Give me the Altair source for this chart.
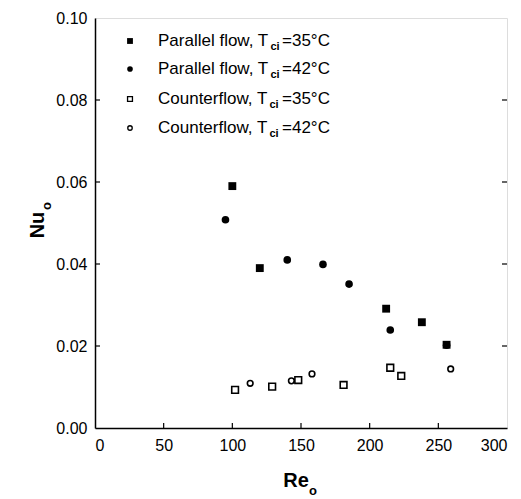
import altair as alt
import pandas as pd

# ---- data ----
par35_re = [100, 120, 212, 238, 256]
par35_nu = [0.0590, 0.0390, 0.0291, 0.0258, 0.0203]
par42_re = [95, 140, 166, 185, 215, 256]
par42_nu = [0.0508, 0.0410, 0.0399, 0.0351, 0.0239, 0.0202]
cnt35_re = [102, 129, 148, 181, 215, 223]
cnt35_nu = [0.0093, 0.0101, 0.0117, 0.0105, 0.0147, 0.0127]
cnt42_re = [113, 143, 158, 259]
cnt42_nu = [0.0109, 0.0115, 0.0132, 0.0144]

legend_main = ["Parallel flow, T", "Parallel flow, T", "Counterflow, T", "Counterflow, T"]
legend_tail = ["=35°C", "=42°C", "=35°C", "=42°C"]
legend_sub = "ci"

x_ticks = [0, 50, 100, 150, 200, 250, 300]
y_ticks = [0.00, 0.02, 0.04, 0.06, 0.08, 0.10]

W, H = 412, 410
FONT = "Liberation Sans"

xs = alt.Scale(domain=[0, 300], nice=False)
ys = alt.Scale(domain=[0, 0.10], nice=False)

def series(re, nu, shape, filled, size):
    df = pd.DataFrame({"Re": re, "Nu": nu})
    m = alt.Chart(df).mark_point(shape=shape, filled=filled, size=size,
                                 color="black", opacity=1,
                                 strokeWidth=1.6)
    return m.encode(
        x=alt.X("Re:Q", scale=xs,
                axis=alt.Axis(values=x_ticks, ticks=False, grid=False, title=None,
                              labelFont=FONT, labelFontSize=16, labelColor="black",
                              labelPadding=9, domainColor="black", domainWidth=1.5)),
        y=alt.Y("Nu:Q", scale=ys,
                axis=alt.Axis(values=y_ticks, format=".2f", ticks=False, grid=False,
                              title=None, labelFont=FONT, labelFontSize=16,
                              labelColor="black", labelPadding=8,
                              domainColor="black", domainWidth=1.5)),
    )

layers = [
    series(par35_re, par35_nu, "square", True, 62),
    series(par42_re, par42_nu, "circle", True, 58),
    series(cnt35_re, cnt35_nu, "square", False, 45),
    series(cnt42_re, cnt42_nu, "circle", False, 32),
]

# inward ticks
bt = pd.DataFrame({"tv": x_ticks[1:-1]})
layers.append(alt.Chart(bt).mark_rule(color="black", strokeWidth=1.2).encode(
    x=alt.X("tv:Q", scale=xs), y=alt.value(H), y2=alt.value(H - 5)))
lt = pd.DataFrame({"tv": y_ticks[1:-1]})
layers.append(alt.Chart(lt).mark_rule(color="black", strokeWidth=1.2).encode(
    y=alt.Y("tv:Q", scale=ys), x=alt.value(0), x2=alt.value(5)))
layers.append(alt.Chart(lt).mark_rule(color="black", strokeWidth=1.2).encode(
    y=alt.Y("tv:Q", scale=ys), x=alt.value(W), x2=alt.value(W - 5)))

# legend (manual, with subscripts)
leg_shapes = [("square", True, 34), ("circle", True, 32), ("square", False, 24), ("circle", False, 20)]
row_y = [23, 51, 81, 110]
one = pd.DataFrame({"k": [0]})
sym_x = 35
txt_x = 63
fs = 17
for i in range(4):
    shp, fil, sz = leg_shapes[i]
    layers.append(alt.Chart(one).mark_point(shape=shp, filled=fil, size=sz, color="black",
                                            opacity=1, strokeWidth=1.3).encode(
        x=alt.value(sym_x), y=alt.value(row_y[i])))
    layers.append(alt.Chart(one).mark_text(text=legend_main[i], align="left", baseline="middle",
                                           font=FONT, fontSize=fs, color="black").encode(
        x=alt.value(txt_x), y=alt.value(row_y[i])))
    w1 = 111.5 if i < 2 else 110.5
    layers.append(alt.Chart(one).mark_text(text=legend_sub, align="left", baseline="middle",
                                           font=FONT, fontSize=11, fontWeight="bold",
                                           color="black").encode(
        x=alt.value(txt_x + w1 + 1), y=alt.value(row_y[i] + 6)))
    layers.append(alt.Chart(one).mark_text(text=legend_tail[i], align="left", baseline="middle",
                                           font=FONT, fontSize=fs, color="black").encode(
        x=alt.value(txt_x + 124), y=alt.value(row_y[i])))

# axis titles with subscripts
layers.append(alt.Chart(one).mark_text(text="Re", align="center", baseline="middle", font=FONT,
                                       fontSize=20, fontWeight="bold", color="black").encode(
    x=alt.value(201), y=alt.value(463)))
layers.append(alt.Chart(one).mark_text(text="o", align="center", baseline="middle", font=FONT,
                                       fontSize=13, fontWeight="bold", color="black").encode(
    x=alt.value(218), y=alt.value(473)))
layers.append(alt.Chart(one).mark_text(text="Nu", align="center", baseline="middle", font=FONT,
                                       fontSize=20, fontWeight="bold", color="black",
                                       angle=270).encode(
    x=alt.value(-57), y=alt.value(207)))
layers.append(alt.Chart(one).mark_text(text="o", align="center", baseline="middle", font=FONT,
                                       fontSize=13, fontWeight="bold", color="black",
                                       angle=270).encode(
    x=alt.value(-48), y=alt.value(188)))

chart = alt.layer(*layers).properties(
    width=W, height=H,
    autosize=alt.AutoSizeParams(type="none"),
    padding={"left": 87, "top": 10, "right": 6, "bottom": 70},
).configure_view(stroke="black", strokeWidth=1.5).configure(background="white")

chart.save("out.html", embed_options={"renderer": "svg", "actions": False})
